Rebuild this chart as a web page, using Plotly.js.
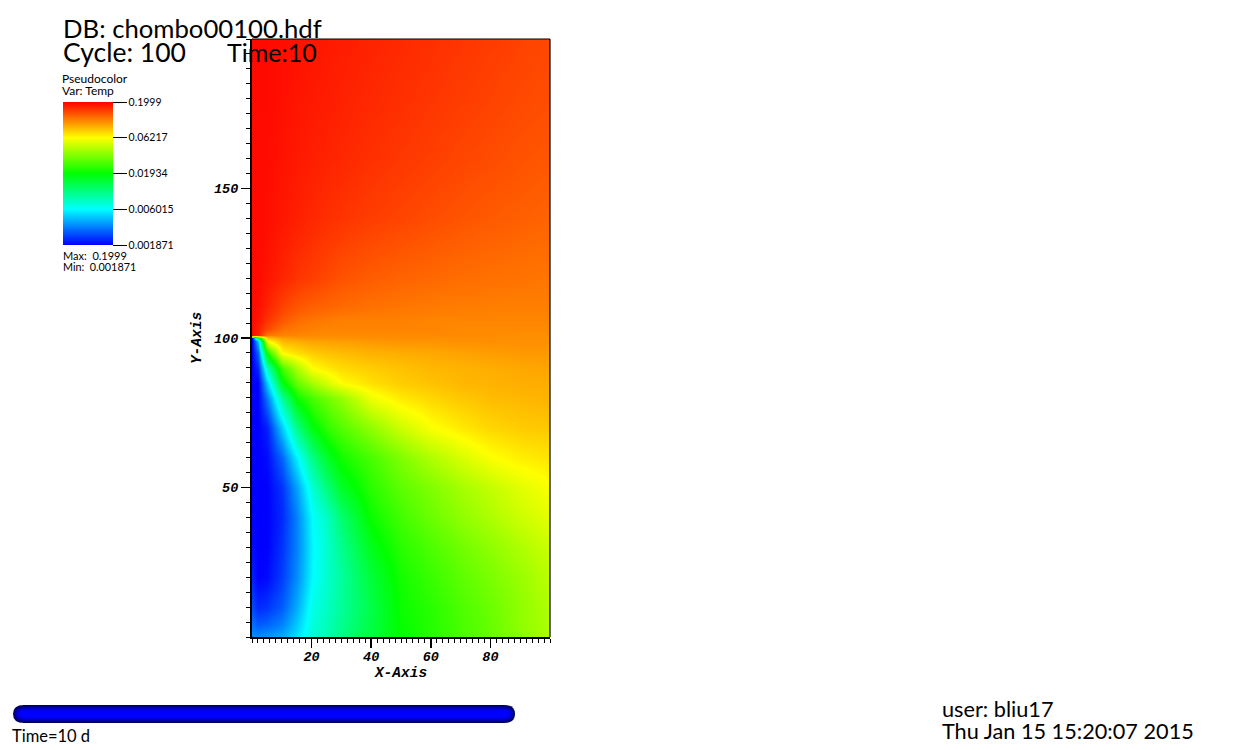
<!DOCTYPE html>
<html><head><meta charset="utf-8">
<script src="https://cdn.plot.ly/plotly-3.0.1.min.js"></script>
<style>html,body{margin:0;padding:0;background:#fff}#c{width:1259px;height:750px}</style>
</head><body><div id="c"></div>
<script>
// Position of Temp on the logarithmic colour table, 0 (Min) to 100 (Max)
const xGrid = [0,2,5,10,15,20,25,30,40,50,60,70,80,90,100];
const yGrid = [0,4,10,20,30,40,50,60,70,80,85,90,95,99,100,101,103,106,110,120,140,160,180,200];
const tempLevel = [
 [14,14,15,17,22,29,33,37,44,50.5,53.5,57,60,63.5,67],
 [11,9,10,13,20,28.5,32,36,43.5,50.5,53.5,57,60,64,67],
 [7,4,5,9,17,27,31,35,43,51,54,57.5,60.5,64,67.5],
 [3,0,1,6,14,24.5,30,34.5,44.5,52,55.5,59,62,65,68.5],
 [1,0,0,5,13,24,30,36,47.5,54,57.5,61,64,67,70],
 [0,0,0,4,13,25,31,39,51,56.5,60.5,64,67,70,72.5],
 [0,0,0,5,16,29,38,46,54,59,62.5,66,69,72,74.5],
 [0,0,1,10,24,37,46,51.5,57,62.5,67,71,74.5,76.5,77.5],
 [0,0,3,20,37,48.5,54.5,58,64,70,74.5,77,79,80,80.5],
 [0,0,12,35,51,57,61,64.5,73.5,77,79,80.5,81.5,82,82.5],
 [0,0,20,48,60,66,71,75,78,80,81,82,82.5,83,83],
 [0,4,32,57,67,75,77,78.5,80,81,82,82.5,83,83.5,84],
 [0,10,52,75,78,80,81,81.5,82.5,83,83.5,84,84.5,85,85],
 [0,20,75,82,83,84,84,84.5,85,85.5,85.5,86,86,86,86],
 [0,45,80,84,85,85.5,85.5,85.5,86,86,86,86,86,86,86],
 [99,97,88,87,87,86.5,86.5,86.5,86.5,86.5,86.5,86.5,86.5,86,86],
 [99,97,93,89,88,87.5,87,87,87,87,87,86.5,86.5,86.5,86.5],
 [99,98,95,91.5,89.5,88.5,88,87.5,87.5,87.5,87,87,87,87,87],
 [99,98.5,96.5,93.5,91.5,90.5,90,89.5,88.8,88.3,88,87.7,87.6,87.5,87.5],
 [99,99,98,96.5,95,94,93,92,91,90.3,89.8,89.3,89,88.7,88.5],
 [99,99,98.7,97.8,97,96.2,95.5,95,94,93.3,92.5,91.8,91.2,90.7,90.2],
 [99,99,98.8,98.2,97.6,97,96.6,96.2,95.3,94.6,93.9,93.2,92.6,92,91.5],
 [99,99,99,98.5,98,97.6,97.2,96.8,96.1,95.4,94.8,94.1,93.5,92.9,92.4],
 [99,99,99,98.7,98.3,98,97.6,97.2,96.6,96,95.4,94.8,94.2,93.6,93]
];
const colorbarLevels = [0,25,50,75,100];
const colorbarLabels = ['0.001871','0.006015','0.01934','0.06217','0.1999'];
const xLabelTicks = [20,40,60,80];
const yLabelTicks = [50,100,150];
const W = 1259, H = 750;
const L = 252, R = 550, T = 39, B = 637;
const uiFont = 'Lato, "Open Sans", sans-serif';
const axisFont = {family:'"Liberation Mono", monospace', size:13.5, color:'#000', weight:'bold', style:'italic'};
const axisTitleFont = {family:'"Liberation Mono", monospace', size:14.5, color:'#000', weight:'bold', style:'italic'};
const px = x => (x-L)/(R-L), py = y => (B-y)/(B-T);
function label(text,x,y,size){
  return {text, xref:'paper', yref:'paper', x:px(x), y:py(y), xanchor:'left', yanchor:'middle',
          showarrow:false, align:'left', borderpad:0, font:{family:uiFont,size,color:'#000'}};
}
// time slider capsule: nested rounded layers, dark at the rim and bright in the middle
const barLayers = [[9,'#00005a'],[8,'#000080'],[7,'#0000a4'],[6,'#0000c4'],[5,'#0000e0'],[4,'#0000f2'],[3,'#0000ff']];
const barX0 = 13, barX1 = 515, barY = 714;
const shapes = barLayers.map(([h,col])=>{
  const inset = 9-h, r = 11, x0 = px(barX0+inset), x1 = px(barX1-inset);
  const yt = py(barY-h), yb = py(barY+h), ym = py(barY), a = px(barX0+inset+r), b = px(barX1-inset-r);
  return {type:'path', xref:'paper', yref:'paper', line:{width:0}, fillcolor:col, layer:'above',
    path:`M${a},${yt} L${b},${yt} Q${x1},${yt} ${x1},${ym} Q${x1},${yb} ${b},${yb} L${a},${yb} Q${x0},${yb} ${x0},${ym} Q${x0},${yt} ${a},${yt} Z`};
});
// thin frame on the top and right of the plot
shapes.push({type:'line',xref:'paper',yref:'paper',x0:0,x1:1,y0:1,y1:1,line:{color:'#000',width:1.2},layer:'above'});
shapes.push({type:'line',xref:'paper',yref:'paper',x0:1,x1:1,y0:0,y1:1,line:{color:'#000',width:1.2},layer:'above'});
const trace = {type:'heatmap', x:xGrid, y:yGrid, z:tempLevel, zmin:0, zmax:100, zsmooth:'best',
  hoverinfo:'skip',
  colorscale:[[0,'#0000ff'],[0.25,'#00ffff'],[0.5,'#00ff00'],[0.75,'#ffff00'],[1,'#ff0000']],
  colorbar:{xref:'container',yref:'container',x:63/W,y:1-245/598,xanchor:'left',yanchor:'bottom',xpad:0,ypad:0,
    thicknessmode:'pixels',thickness:50,lenmode:'pixels',len:143,outlinewidth:0,
    tickmode:'array',tickvals:colorbarLevels,ticktext:colorbarLabels,ticks:'outside',ticklen:14,tickwidth:1,
    tickcolor:'#000',tickfont:{family:uiFont,size:10.5,color:'#000'}}
};
const layout = {
  width:W,height:H,paper_bgcolor:'#fff',plot_bgcolor:'#fff',showlegend:false,
  margin:{l:L,r:W-R,t:T,b:H-B,pad:0,autoexpand:false},
  title:{text:'DB: chombo00100.hdf',x:63/W,xanchor:'left',y:1-29/H,yanchor:'middle',font:{family:uiFont,size:25.7,color:'#000'}},
  xaxis:{range:[0,100],tickmode:'array',tickvals:xLabelTicks,ticks:'outside',ticklen:9,tickwidth:1.5,tickcolor:'#000',
    showgrid:false,zeroline:false,showline:true,linewidth:2,linecolor:'#000',tickfont:axisFont,ticklabelstandoff:-3,
    minor:{dtick:2,ticks:'outside',ticklen:4,tickwidth:1,tickcolor:'#000',showgrid:false},
    title:{text:'X-Axis',font:axisTitleFont,standoff:2}},
  yaxis:{range:[0,200],tickmode:'array',tickvals:yLabelTicks,ticks:'outside',ticklen:9,tickwidth:1.5,tickcolor:'#000',
    showgrid:false,zeroline:false,showline:true,linewidth:2,linecolor:'#000',tickfont:axisFont,
    minor:{dtick:5,ticks:'outside',ticklen:4,tickwidth:1,tickcolor:'#000',showgrid:false},
    title:{text:'Y-Axis',font:axisTitleFont,standoff:9}},
  shapes,
  annotations:[
    label('Cycle: 100',62,52,26.5),
    label('Time:10',226,52,25),
    label('Pseudocolor',61,79,12),
    label('Var: Temp',61,90,12),
    label('Max:  0.1999',62,255,11),
    label('Min:  0.001871',62,266,10.8),
    label('Time=10 d',11,736,16.5),
    label('user: bliu17',941,709,21.7),
    label('Thu Jan 15 15:20:07 2015',941,731,21.7)
  ]
};
Plotly.newPlot('c',[trace],layout,{displayModeBar:false,staticPlot:true});
</script></body></html>
